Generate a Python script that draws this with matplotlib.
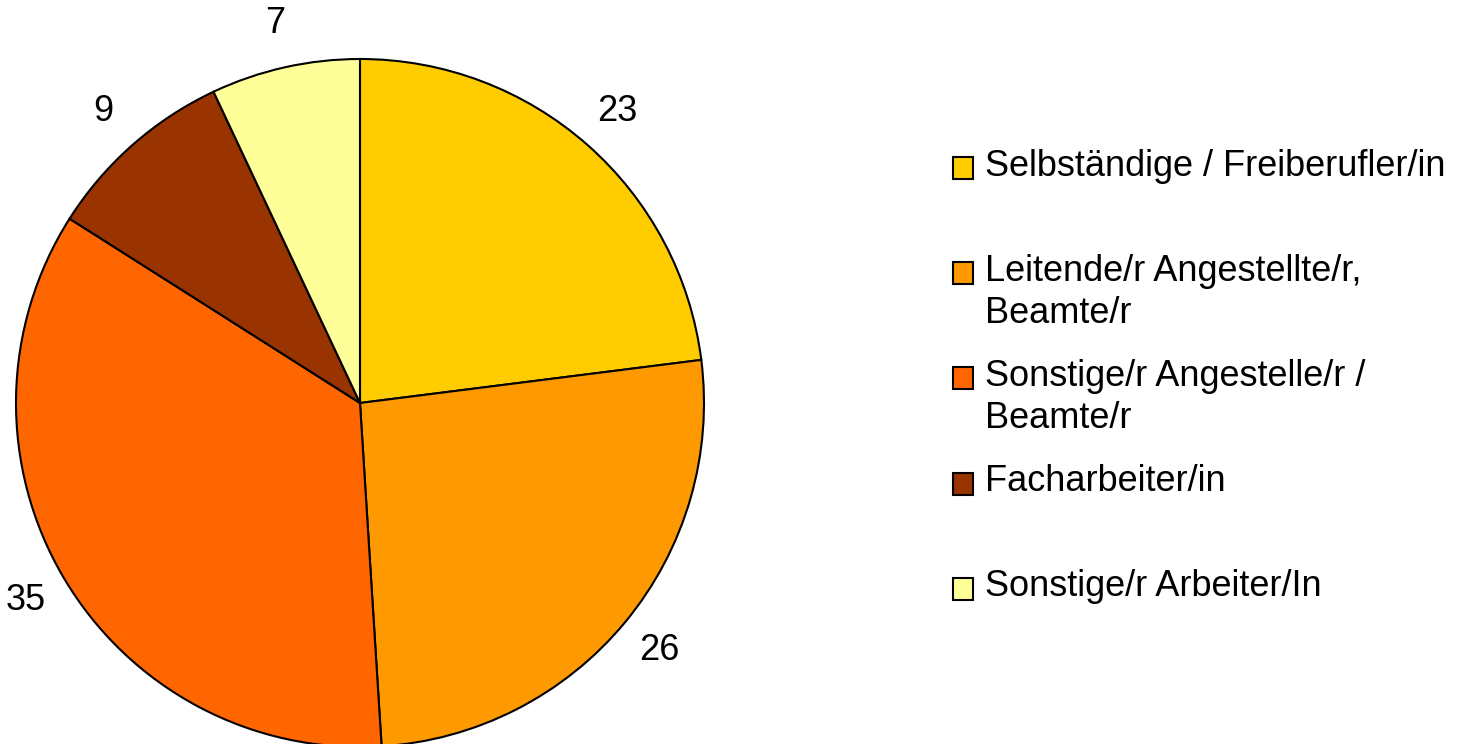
import matplotlib.pyplot as plt
from matplotlib.patches import Patch

plt.rcParams['font.family'] = ['Liberation Sans', 'DejaVu Sans']

# data
categories = ['Selbständige / Freiberufler/in',
              'Leitende/r Angestellte/r,\nBeamte/r',
              'Sonstige/r Angestelle/r /\nBeamte/r',
              'Facharbeiter/in',
              'Sonstige/r Arbeiter/In']
values = [23, 26, 35, 9, 7]
colors = ['#FFCC00', '#FF9900', '#FF6600', '#993300', '#FFFF99']

fs = 26
line_px = 42  # distance between the two lines of a legend entry

fig = plt.figure(figsize=(14.63, 7.44), dpi=100)
# pie centre ~ (360, 403) px, radius ~344 px
ax = fig.add_axes([(360 - 344) / 1463, (744 - 403 - 344) / 744, 688 / 1463, 688 / 744])
wedges, texts = ax.pie(values, labels=[str(v) for v in values], colors=colors,
                       startangle=90, counterclock=False, labeldistance=1.13,
                       wedgeprops=dict(edgecolor='black', linewidth=1.5),
                       textprops=dict(fontsize=fs))
for t in texts:
    t.set_ha('center')
    t.set_va('center')
ax.set_xlim(-1, 1)
ax.set_ylim(-1, 1)
ax.axis('off')

# every label padded to two lines so the rows keep a steady pitch
labels = [c if '\n' in c else c + '\n ' for c in categories]
handles = [Patch(facecolor=c, edgecolor='black', linewidth=1.5) for c in colors]
leg = fig.legend(handles, labels, loc='upper left', bbox_to_anchor=(953 / 1463, 1 - 149 / 744),
                 frameon=False, fontsize=fs, borderpad=0, borderaxespad=0,
                 handlelength=0.56, handleheight=0.56, handletextpad=0.33,
                 labelspacing=0.77)
for t in leg.get_texts():
    t.set_linespacing(1.2 * line_px / (fs * 100 / 72 * 1.1))
# put the box next to the first line instead of between the two lines
shift = 40 / 2 * 72 / 100
for h in leg.legend_handles:
    h.set_y(h.get_y() + shift)

fig.savefig('out.png', dpi=100)
